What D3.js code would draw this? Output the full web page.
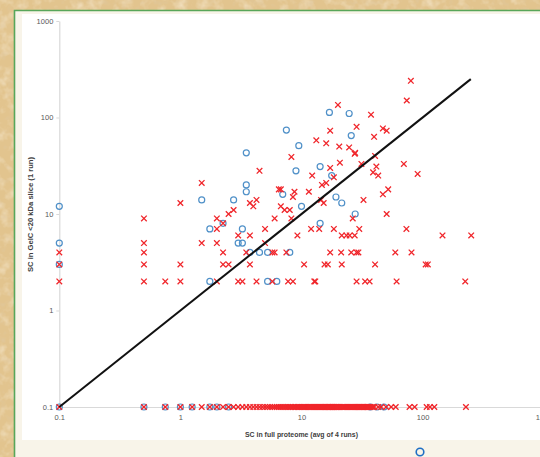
<!DOCTYPE html>
<html>
<head>
<meta charset="utf-8">
<script src="https://cdn.jsdelivr.net/npm/d3@7"></script>
<style>
  body { margin: 0; background: #e0c28c; }
  svg { display: block; }
</style>
</head>
<body>
<div id="chart"></div>
<script>
// axis ticks
const xTicks = [0.1, 1, 10, 100, 1000];
const yTicks = [0.1, 1, 10, 100, 1000];
const floorValue = 0.1;   // proteins not seen get plotted at 0.1
const diagonal = [[0.1, 0.1], [250, 250]];

// red x, [full proteome, gelc]
const redPoints = [
  [0.1, 4], [0.1, 3], [0.1, 2],
  [0.5, 9], [0.5, 5], [0.5, 4], [0.5, 3], [0.5, 2],
  [0.75, 2], [1, 13], [1, 3], [1, 2],
  [1.5, 21], [1.5, 5],
  [2, 9], [2, 7], [2, 5], [2, 2],
  [2.25, 8], [2.25, 4], [2.25, 3], [2.5, 3], [2.5, 10], [2.75, 11],
  [3, 6], [3, 2], [3.25, 2], [3.5, 4],
  [3.75, 13], [4, 12], [4.25, 14], [3.75, 6], [3.75, 3], [4.25, 2],
  [4.5, 28], [5, 7], [5, 5], [5.75, 4], [6, 4], [5.75, 2], [6, 9],
  [6.75, 12], [7.25, 11], [8, 11], [6.5, 18], [6.75, 18],
  [7.5, 4], [7.75, 2], [8.5, 2], [8.25, 39], [8.25, 9], [8.5, 15], [8.75, 17],
  [9.25, 6], [10.5, 3], [11.5, 17], [12.25, 25], [12, 7], [12.75, 2], [13, 2],
  [13.25, 58], [14, 7], [14.5, 14], [15.25, 13], [14.75, 20], [16, 21],
  [15.5, 3], [16.5, 3], [16, 54], [17.25, 73], [17.25, 30], [17.25, 4],
  [18.5, 24], [18.5, 7], [20, 135], [20.5, 50], [20.75, 34], [21.25, 4], [21.5, 3],
  [21.5, 6], [23.5, 6], [25, 6], [27.5, 6], [24.75, 49], [27.5, 42], [25.75, 4],
  [26.5, 9], [27.75, 43], [28.5, 80], [28.5, 4], [29.5, 4],
  [28.5, 2], [33.5, 2], [36.5, 2], [30, 7], [31.25, 33], [32.5, 14],
  [37.5, 107], [39, 27], [39.75, 63], [40.5, 40], [40.5, 3], [41.5, 31], [43, 25],
  [47, 77], [50.5, 73], [47, 16], [52, 18], [50.5, 10],
  [59.5, 4], [61, 2], [70, 33], [73.5, 7], [74, 150], [80, 240], [81, 4], [91, 26],
  [106, 3], [110.5, 3], [146, 6], [252, 6], [225, 2]
];

// red x on the bottom row (gelc = 0.1)
const redFloorX = [
  0.1, 0.5, 0.75, 1, 1.25,
  1.5, 1.75, 2, 2.25, 2.5, 2.75, 3, 3.25, 3.5, 3.75,
  4, 4.25, 4.5, 4.75, 5, 5.25, 5.5, 5.75, 6, 6.25, 6.5, 6.75,
  7, 7.25, 7.5, 7.75, 8, 8.25, 8.5, 8.75, 9, 9.25, 9.5, 9.75,
  10, 10.25, 10.5, 10.75, 11, 11.25, 11.5, 11.75, 12, 12.25, 12.5, 12.75,
  13, 13.25, 13.5, 13.75, 14, 14.25, 14.5, 14.75, 15, 15.25, 15.5, 15.75,
  16, 16.25, 16.5, 16.75, 17, 17.25, 17.5, 17.75, 18, 18.25, 18.5, 18.75,
  19, 19.25, 19.5, 19.75, 20, 20.5, 21, 21.5, 22, 22.5, 23, 23.5, 24, 24.5,
  25, 25.5, 26, 26.5, 27, 27.5, 28, 28.5, 29, 29.5, 30, 30.5, 31, 31.5,
  32, 32.5, 33, 33.5, 34, 34.5, 35, 35.5, 36, 37, 38, 39, 40,
  43, 45.5, 50, 55, 60, 78, 86, 108, 115, 125, 228
];

// blue circles, [full proteome, gelc]
const bluePoints = [
  [0.1, 12], [0.1, 5], [0.1, 3],
  [1.5, 14], [2.75, 14], [3.5, 43], [3.5, 20], [3.5, 17], [2.25, 8],
  [1.75, 7], [3.25, 7], [3, 5], [3.25, 5], [3.75, 4], [4.5, 4], [5.25, 4],
  [1.75, 2], [5.25, 2], [6.25, 2], [7.5, 74], [7, 16], [8, 4], [9, 28],
  [9.5, 51], [10, 12], [14.25, 31], [14.25, 8], [17, 113], [17.75, 25],
  [19.25, 15], [21.5, 13], [24.75, 110], [25.75, 65], [27.75, 10]
];
const blueFloorX = [0.1, 0.5, 0.75, 1, 1.25, 1.75, 2, 2.5, 37, 42, 48];

const W = 540, H = 457;
const svg = d3.select("#chart").append("svg")
  .attr("width", W).attr("height", H)
  .attr("viewBox", [0, 0, W, H]);

// parchment background
const defs = svg.append("defs");
const paper = defs.append("filter").attr("id", "paper")
  .attr("x", 0).attr("y", 0).attr("width", "100%").attr("height", "100%");
paper.append("feTurbulence").attr("type", "fractalNoise")
  .attr("baseFrequency", 0.09).attr("numOctaves", 3).attr("seed", 7);
paper.append("feColorMatrix").attr("type", "matrix")
  .attr("values", "0 0 0 0 0.95  0 0 0 0 0.86  0 0 0 0 0.70  1.3 0 0 0 -0.6");
const paper2 = defs.append("filter").attr("id", "paper2")
  .attr("x", 0).attr("y", 0).attr("width", "100%").attr("height", "100%");
paper2.append("feTurbulence").attr("type", "fractalNoise")
  .attr("baseFrequency", 0.14).attr("numOctaves", 2).attr("seed", 3);
paper2.append("feColorMatrix").attr("type", "matrix")
  .attr("values", "0 0 0 0 0.74  0 0 0 0 0.58  0 0 0 0 0.36  0 1.5 0 0 -0.85");

svg.append("rect").attr("width", W).attr("height", H).attr("fill", "#e2c48e");
svg.append("rect").attr("width", W).attr("height", H).attr("filter", "url(#paper)");
svg.append("rect").attr("width", W).attr("height", H).attr("filter", "url(#paper2)");

// panel
svg.append("rect").attr("x", 15).attr("y", 11).attr("width", W - 15).attr("height", H - 11)
  .attr("fill", "#f8f4e9");
svg.append("rect").attr("x", 22).attr("y", 14).attr("width", W - 22).attr("height", 426)
  .attr("fill", "#ffffff");
svg.append("path").attr("d", `M14.5,${H} V10.5 H${W}`)
  .attr("fill", "none").attr("stroke", "#58a65a").attr("stroke-width", 1.6);

const x = d3.scaleLog().domain([0.1, 1000]).range([59.3, 543.7]);
const y = d3.scaleLog().domain([0.1, 1000]).range([407, 21]);

// axes
const yAxis = svg.append("g")
  .attr("transform", `translate(${x(0.1)},0)`)
  .call(d3.axisLeft(y).tickValues(yTicks).tickSize(3).tickSizeOuter(0)
    .tickPadding(3).tickFormat(d => d3.format("~g")(d)));
const xAxis = svg.append("g")
  .attr("transform", `translate(0,${y(0.1)})`)
  .call(d3.axisBottom(x).tickValues(xTicks).tickSize(0).tickSizeOuter(0)
    .tickPadding(8).tickFormat(d => d3.format("~g")(d)));
[xAxis, yAxis].forEach(g => {
  g.select(".domain").attr("stroke", "#d9d9d9").attr("stroke-width", 1.2);
  g.selectAll(".tick line").attr("stroke", "#d9d9d9");
  g.selectAll("text").attr("fill", "#595959")
    .attr("font-family", "Liberation Sans, Arial, sans-serif").attr("font-size", 7.5);
});

// axis titles
svg.append("text")
  .attr("x", 301.5).attr("y", 437)
  .attr("text-anchor", "middle")
  .attr("font-family", "Liberation Sans, Arial, sans-serif")
  .attr("font-size", 7).attr("font-weight", "bold").attr("fill", "#404040")
  .attr("textLength", 113).attr("lengthAdjust", "spacingAndGlyphs")
  .text("SC in full proteome (avg of 4 runs)");
svg.append("text")
  .attr("transform", `translate(33,214.5) rotate(-90)`)
  .attr("text-anchor", "middle")
  .attr("font-family", "Liberation Sans, Arial, sans-serif")
  .attr("font-size", 7).attr("font-weight", "bold").attr("fill", "#404040")
  .attr("textLength", 115).attr("lengthAdjust", "spacingAndGlyphs")
  .text("SC in GelC <20 kDa slice (1 run)");

// markers
const blueAll = bluePoints.concat(blueFloorX.map(v => [v, floorValue]));
const redAll = redPoints.concat(redFloorX.map(v => [v, floorValue]));

svg.append("g").selectAll("circle")
  .data(blueAll).enter().append("circle")
  .attr("cx", d => x(d[0])).attr("cy", d => y(d[1]))
  .attr("r", 3)
  .attr("fill", "none").attr("stroke", "#4f90c8").attr("stroke-width", 1.2);

const s = 2.8;
svg.append("g").selectAll("path")
  .data(redAll).enter().append("path")
  .attr("transform", d => `translate(${x(d[0])},${y(d[1])})`)
  .attr("d", `M${-s},${-s}L${s},${s}M${-s},${s}L${s},${-s}`)
  .attr("fill", "none").attr("stroke", "#f0262b").attr("stroke-width", 1.3);

// y = x line
svg.append("path")
  .datum(diagonal)
  .attr("d", d3.line().x(d => x(d[0])).y(d => y(d[1])))
  .attr("fill", "none").attr("stroke", "#111").attr("stroke-width", 2);

// legend marker peeking in at the bottom
svg.append("circle").attr("cx", 420).attr("cy", 452).attr("r", 3.8)
  .attr("fill", "none").attr("stroke", "#1f6fc4").attr("stroke-width", 1.6);
</script>
</body>
</html>
